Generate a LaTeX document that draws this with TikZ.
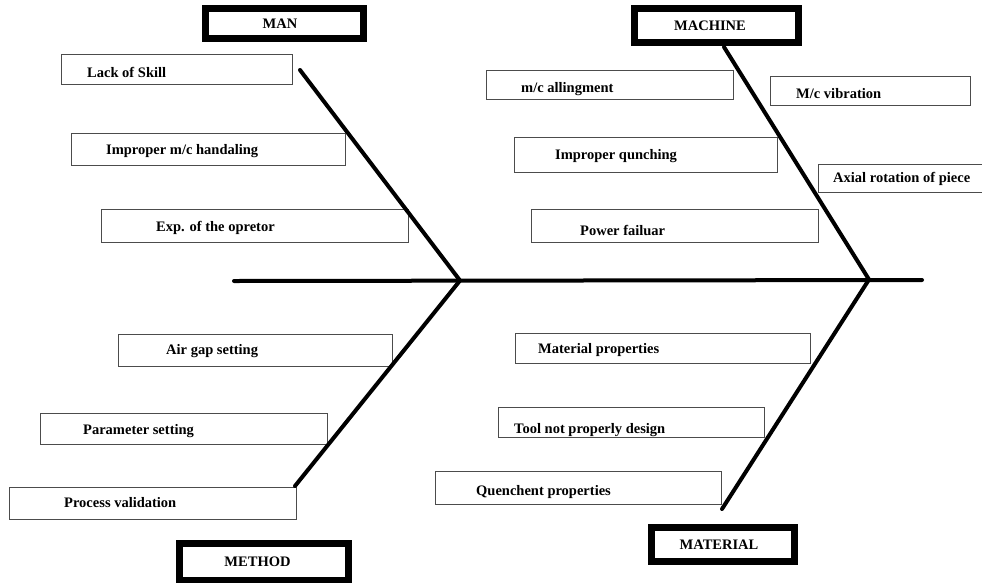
\documentclass[tikz,border=0pt]{standalone}
\usepackage{fontspec}
\setmainfont{Liberation Serif}
\newcommand\causebox[8]{%
  \node[cbox, minimum width={(#4)-(#2)}, minimum height={(#5)-(#3)}] (#1) at ({((#2)+(#4))/2},{((#3)+(#5))/2}) {};
  \node[ctext] (#1-t) at (#6,#7) {#8};}
\begin{document}
\begin{tikzpicture}[x=1pt,y=-1pt,
  cbox/.style={draw=black!70, line width=1pt, inner sep=0pt, outer sep=0pt},
  ctext/.style={anchor=base west, inner sep=0pt, font=\fontsize{14.5}{16}\selectfont\bfseries},
  hbox/.style={draw=black, line width=7pt, inner sep=0pt, outer sep=0pt, font=\fontsize{14.5}{16}\selectfont\bfseries},
  bone/.style={line width=4pt, line cap=round}]
\useasboundingbox (0,0) rectangle (982,582);
% heading boxes
\node[hbox, minimum width=158, minimum height=30] (man) at (284.5,23.5) {MAN\kern9pt};
\node[hbox, minimum width=164, minimum height=34] (machine) at (716.5,25.5) {MACHINE\kern13pt};
\node[hbox, minimum width=169, minimum height=37] (method) at (264,562) {METHOD\kern13pt};
\node[hbox, minimum width=143, minimum height=34] (material) at (723,544.5) {MATERIAL\kern8pt};
% cause boxes
\causebox{c1}{61}{54}{292}{84}{87}{77}{Lack of Skill}
\causebox{c2}{71}{133}{345}{165}{106}{154}{Improper m/c handaling}
\causebox{c3}{101}{209}{408}{242}{156}{231}{Exp. of the opretor}
\causebox{c4}{486}{70}{733}{99}{521}{92}{m/c allingment}
\causebox{c5}{770}{76}{970}{105}{796}{98}{M/c vibration}
\causebox{c6}{514}{137}{777}{172}{555}{159}{Improper qunching}
\causebox{c7}{818}{164}{1000}{192}{833}{182}{Axial rotation of piece}
\causebox{c8}{531}{209}{818}{242}{580}{235}{Power failuar}
\causebox{c9}{118}{334}{392}{366}{166}{354}{Air gap setting}
\causebox{c10}{40}{413}{327}{444}{83}{434}{Parameter setting}
\causebox{c11}{9}{487}{296}{519}{64}{507}{Process validation}
\causebox{c12}{515}{333}{810}{363}{538}{353}{Material properties}
\causebox{c13}{498}{407}{764}{437}{514}{433}{Tool not properly design}
\causebox{c14}{435}{471}{721}{504}{476}{495}{Quenchent properties}
% skeleton
\coordinate (spL) at (234,281);
\coordinate (spR) at (922,280);
\coordinate (j1) at (460,280.5);
\coordinate (j2) at (869,279.5);
\coordinate (manEnd) at (300,70);
\coordinate (methodEnd) at (295,486);
\coordinate (machineEnd) at (724,47);
\coordinate (materialEnd) at (722,509);
\draw[bone] (spL) -- (spR);
\draw[bone] (manEnd) -- (j1) -- (methodEnd);
\draw[bone] (machineEnd) -- (j2) -- (materialEnd);
\end{tikzpicture}
\end{document}
